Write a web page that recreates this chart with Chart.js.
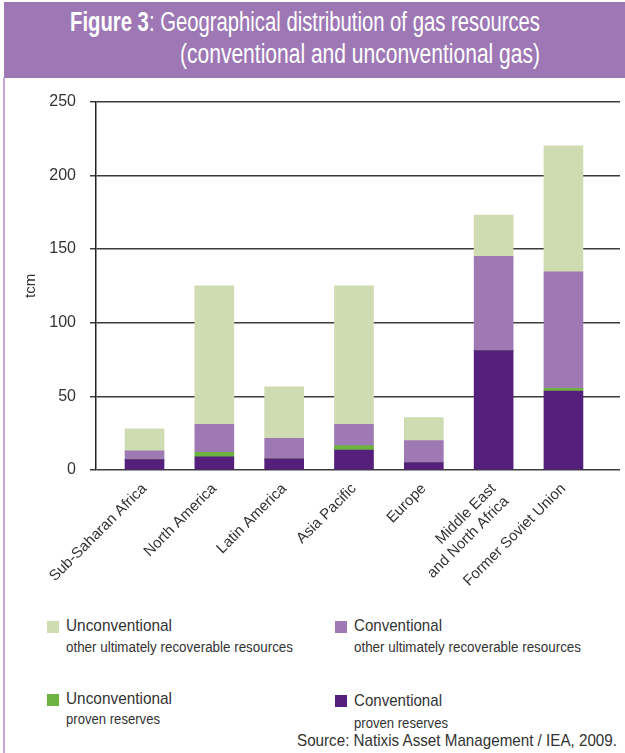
<!DOCTYPE html>
<html>
<head>
<meta charset="utf-8">
<script src="https://cdn.jsdelivr.net/npm/chart.js@4.4.1/dist/chart.umd.min.js"></script>
<style>
  body { margin: 0; width: 625px; height: 753px; background: #fff; overflow: hidden; position: relative;
         font-family: "Liberation Sans", Arial, sans-serif; color: #333; }
  #banner { position: absolute; left: 4px; top: 2px; width: 621px; height: 76px; background: #9e78b5; color: #fff; }
  #banner span { position: absolute; font-size: 27px; white-space: nowrap; transform-origin: left top; }
  #frame { position: absolute; left: 3px; top: 78px; width: 2px; height: 675px; background: #c3a6d4; }
  #wrap { position: absolute; left: 0; top: 78px; width: 625px; height: 522px; }
  .lg { position: absolute; white-space: nowrap; transform-origin: left top; }
  .sw { position: absolute; width: 12px; height: 12px; }
  .big { font-size: 17px; }
  .small { font-size: 14px; }
  #source { position: absolute; font-size: 17px; white-space: nowrap; transform-origin: left top; top: 731px; }
</style>
</head>
<body>
<div id="banner">
  <span class="fit" data-w="470" style="left:66px; top:5px;"><b>Figure 3</b>: Geographical distribution of gas resources</span>
  <span class="fit" data-w="360" style="left:176px; top:37px;">(conventional and unconventional gas)</span>
</div>
<div id="frame"></div>
<div id="wrap"><canvas id="chart" width="625" height="522"></canvas></div>

<div class="sw" style="left:47px; top:621px; background:#cfdcb2;"></div>
<div class="lg big fit" data-w="106" style="left:66px; top:616px;">Unconventional</div>
<div class="lg small fit" data-w="227" style="left:66px; top:639px;">other ultimately recoverable resources</div>

<div class="sw" style="left:335px; top:621px; background:#9f79b4;"></div>
<div class="lg big fit" data-w="88" style="left:354px; top:616px;">Conventional</div>
<div class="lg small fit" data-w="227" style="left:354px; top:639px;">other ultimately recoverable resources</div>

<div class="sw" style="left:47px; top:694px; background:#6db33f;"></div>
<div class="lg big fit" data-w="106" style="left:66px; top:689px;">Unconventional</div>
<div class="lg small fit" data-w="94" style="left:66px; top:711px;">proven reserves</div>

<div class="sw" style="left:335px; top:695px; background:#55207b;"></div>
<div class="lg big fit" data-w="88" style="left:354px; top:691px;">Conventional</div>
<div class="lg small fit" data-w="94" style="left:354px; top:715px;">proven reserves</div>

<div id="source" class="fit" data-w="320" style="left:297px;">Source: Natixis Asset Management / IEA, 2009.</div>

<script>
// regions on the x axis
const regions = ['Sub-Saharan Africa', 'North America', 'Latin America', 'Asia Pacific', 'Europe',
  ['Middle East', 'and North Africa'], 'Former Soviet Union'];

// tcm, stacked from bottom to top
const convProven   = [7, 9, 7.5, 13.5, 5, 81, 53.5];
const unconvProven = [0, 3, 0, 3, 0, 0, 2];
const convOther    = [6, 19, 14, 14.5, 15, 64, 79];
const unconvOther  = [15, 94, 35, 94, 15.5, 28, 85.5];

const yTicks = [0, 50, 100, 150, 200, 250];

const FONT = '"Liberation Sans", Arial, sans-serif';

// squeeze the html text horizontally, the original uses a condensed face
document.querySelectorAll('.fit').forEach(el => {
  const w = el.getBoundingClientRect().width;
  el.style.transform = 'scaleX(' + (el.dataset.w / w) + ')';
});

function points(values) {
  return values.map((v, i) => ({ x: i, y: v }));
}

const ctx = document.getElementById('chart').getContext('2d');
new Chart(ctx, {
  type: 'bar',
  data: {
    datasets: [
      { label: 'Conventional proven reserves', data: points(convProven), backgroundColor: '#55207b' },
      { label: 'Unconventional proven reserves', data: points(unconvProven), backgroundColor: '#6db33f' },
      { label: 'Conventional other ultimately recoverable resources', data: points(convOther), backgroundColor: '#9f79b4' },
      { label: 'Unconventional other ultimately recoverable resources', data: points(unconvOther), backgroundColor: '#cfdcb2' }
    ]
  },
  options: {
    responsive: false,
    animation: false,
    barThickness: 39,
    layout: { padding: { top: 18, right: 5, left: 0, bottom: 0 } },
    plugins: { legend: { display: false }, tooltip: { enabled: false } },
    scales: {
      x: {
        type: 'linear',
        stacked: true,
        offset: false,
        min: -0.695,
        max: 6.81,
        grid: { display: false },
        border: { display: false },
        afterFit: (scale) => { scale.height = 130; },
        ticks: {
          stepSize: 1,
          includeBounds: false,
          autoSkip: false,
          minRotation: 45,
          maxRotation: 45,
          padding: 2,
          color: '#333',
          font: { family: FONT, size: 15 },
          callback: (v) => (Number.isInteger(v) && v >= 0 && v < regions.length) ? regions[v] : ''
        }
      },
      y: {
        stacked: true,
        min: 0,
        max: 250,
        afterFit: (scale) => { scale.width = 96; },
        afterBuildTicks: (scale) => { scale.ticks = yTicks.map(v => ({ value: v })); },
        border: { display: true, color: '#222', width: 1.5 },
        grid: { color: '#3c3c3c', lineWidth: 1.5, tickLength: 6, drawTicks: true },
        title: { display: true, text: 'tcm', color: '#333', font: { family: FONT, size: 15 }, padding: { top: 22 } },
        ticks: { color: '#333', padding: 14, font: { family: FONT, size: 16 } }
      }
    }
  }
});
</script>
</body>
</html>
